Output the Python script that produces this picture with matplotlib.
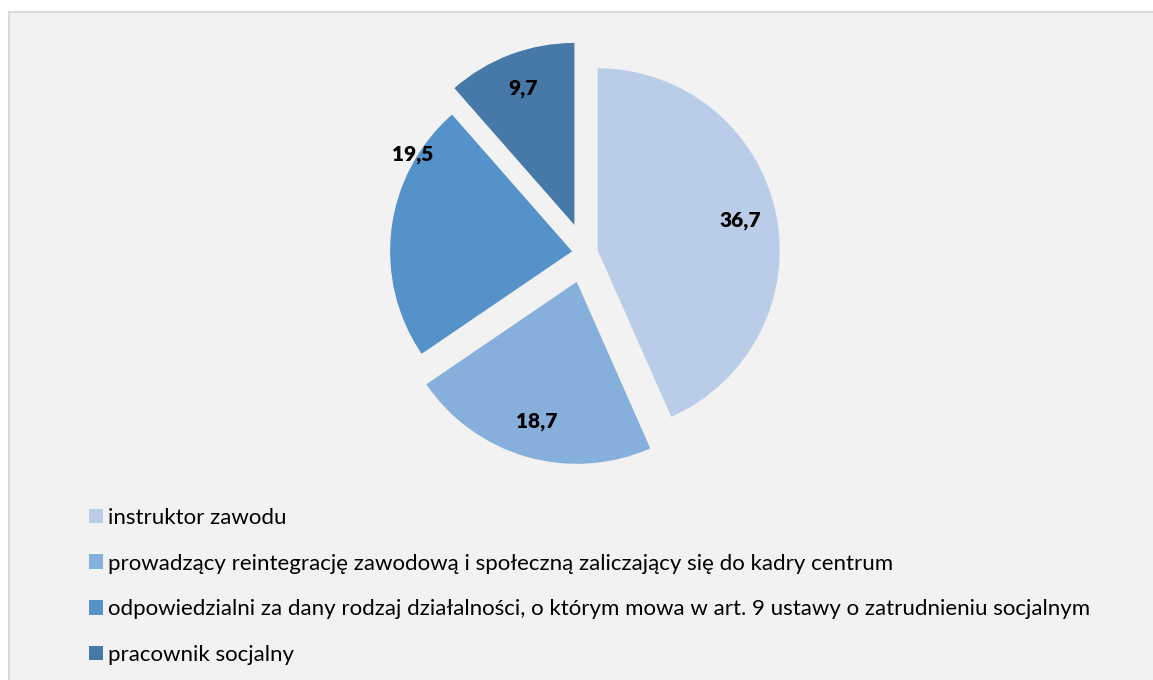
import matplotlib.pyplot as plt
from matplotlib.patches import Rectangle

categories = [
    'instruktor zawodu',
    'prowadzący reintegrację zawodową i społeczną zaliczający się do kadry centrum',
    'odpowiedzialni za dany rodzaj działalności, o którym mowa w art. 9 ustawy o zatrudnieniu socjalnym',
    'pracownik socjalny',
]
values = [36.7, 18.7, 19.5, 9.7]
colors = ['#B9CDE8', '#87AFDC', '#5592C9', '#4679A8']


def main():
    plt.rcParams['font.family'] = ['Lato', 'DejaVu Sans']
    fig = plt.figure(figsize=(11.53, 6.8), dpi=100, facecolor='white')
    ax = fig.add_axes([0, 0, 1, 1])

    # pixel-like coordinates, y up
    cx, cy, r = 585, 680 - 253, 182
    wedges, texts = ax.pie(
        values, colors=colors, startangle=90, counterclock=False,
        center=(cx, cy), radius=r, explode=[13, 30, 13, 30],
        labels=[f'{v:.1f}'.replace('.', ',') for v in values],
        labeldistance=0.8,
        textprops=dict(fontsize=15, fontweight='heavy', color='black',
                       ha='center', va='center'),
        wedgeprops=dict(linewidth=0))
    for t in texts:
        t.set_horizontalalignment('center')
    # 19,5 label was moved near the outer edge in the original
    texts[2].set_position((413, 680 - 155))

    ax.set_xlim(0, 1153)
    ax.set_ylim(0, 680)
    ax.set_aspect('auto')
    ax.axis('off')

    ax.add_patch(Rectangle((8.5, -20), 1200, 680 - 11.5 + 20,
                           facecolor='#F2F2F2', edgecolor='#D9D9D9',
                           linewidth=1.5, zorder=0))

    ax.legend(wedges, categories, loc='upper left',
              bbox_to_anchor=(89 / 1153, 1 - 508 / 680), frameon=False,
              fontsize=16, handlelength=0.63, handleheight=0.63,
              handletextpad=0.23, labelspacing=1.15, borderpad=0,
              borderaxespad=0)

    fig.savefig('out.png', dpi=100, facecolor='white')


if __name__ == '__main__':
    main()
